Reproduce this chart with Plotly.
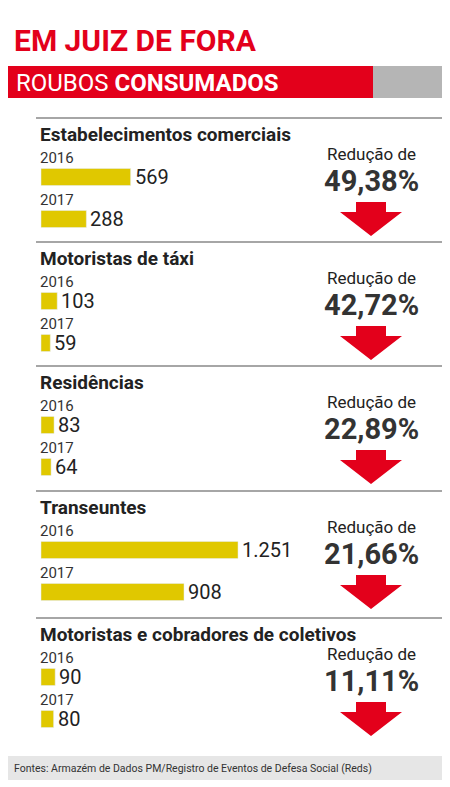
import plotly.graph_objects as go

categories = ['Estabelecimentos comerciais', 'Motoristas de táxi', 'Residências',
              'Transeuntes', 'Motoristas e cobradores de coletivos']
v2016 = [569, 103, 83, 1251, 90]
v2017 = [288, 59, 64, 908, 80]
reducao = ['49,38%', '42,72%', '22,89%', '21,66%', '11,11%']
val_labels_2016 = ['569', '103', '83', '1.251', '90']
val_labels_2017 = ['288', '59', '64', '908', '80']

W, H = 450, 787
x0 = 33
scale = 0.1575  # px per unit

sec_top = [110, 234, 358, 483, 610]
fig = go.Figure()

ys, xs, txt = [], [], []
for i in range(5):
    t = sec_top[i]
    ys += [t + 59, t + 101]
    xs += [v2016[i], v2017[i]]
    txt += [val_labels_2016[i], val_labels_2017[i]]

fig.add_trace(go.Bar(x=xs, y=ys, orientation='h', width=17, marker_color='#e0c800',
                     xaxis='x2', yaxis='y'))

shapes = [
    dict(type='rect', x0=0, x1=365, y0=58, y1=90, fillcolor='#e3001b', line_width=0, layer='below'),
    dict(type='rect', x0=365, x1=450, y0=58, y1=90, fillcolor='#b5b5b5', line_width=0, layer='below'),
    dict(type='rect', x0=0, x1=450, y0=748, y1=772, fillcolor='#e6e6e6', line_width=0, layer='below'),
]
ann = [
    dict(x=4, y=32, text='<b>EM JUIZ DE FORA</b>', xanchor='left', font=dict(size=30, color='#e3001b', family='Roboto')),
    dict(x=6, y=75, text='ROUBOS <b>CONSUMADOS</b>', xanchor='left', font=dict(size=24, color='white', family='Roboto')),
    dict(x=4, y=760, text='Fontes: Armazém de Dados PM/Registro de Eventos de Defesa Social (Reds)', xanchor='left',
         font=dict(size=10.5, color='#333', family='Roboto')),
]
for xv, yv, s in zip(xs, ys, txt):
    ann.append(dict(x=xv, y=yv, text=s, xanchor='left', xshift=2, xref='x2',
                    font=dict(size=20, color='#222', family='Roboto')))
for i in range(5):
    t = sec_top[i]
    shapes.append(dict(type='line', x0=28, x1=450, y0=t, y1=t, line=dict(color='#888', width=1.5)))
    ann += [
        dict(x=30, y=t + 16, text='<b>' + categories[i] + '</b>', xanchor='left', font=dict(size=19, color='#222', family='Roboto')),
        dict(x=30, y=t + 40, text='2016', xanchor='left', font=dict(size=15, color='#333', family='Roboto')),
        dict(x=30, y=t + 82, text='2017', xanchor='left', font=dict(size=15, color='#333', family='Roboto')),
        dict(x=363, y=t + 36, text='Redução de', font=dict(size=17, color='#222', family='Roboto')),
        dict(x=363, y=t + 63, text='<b>' + reducao[i] + '</b>', font=dict(size=29, color='#333', family='Roboto')),
    ]
    a = t + 84
    shapes.append(dict(type='path', path=f'M 348 {a} L 378 {a} L 378 {a+10} L 394 {a+10} L 363 {a+34} L 332 {a+10} L 348 {a+10} Z',
                       fillcolor='#e3001b', line_width=0))
for a in ann:
    a.setdefault('xref', 'x')
    a.update(yref='y', showarrow=False, yanchor='middle')

fig.update_layout(
    width=W, height=H, margin=dict(l=0, r=0, t=0, b=0), paper_bgcolor='white', plot_bgcolor='white',
    showlegend=False, shapes=shapes, annotations=ann,
    xaxis=dict(range=[0, W], visible=False, fixedrange=True),
    xaxis2=dict(range=[-x0 / scale, (W - x0) / scale], visible=False, overlaying='x'),
    yaxis=dict(range=[H, 0], visible=False),
)
fig.write_html('out.html')
